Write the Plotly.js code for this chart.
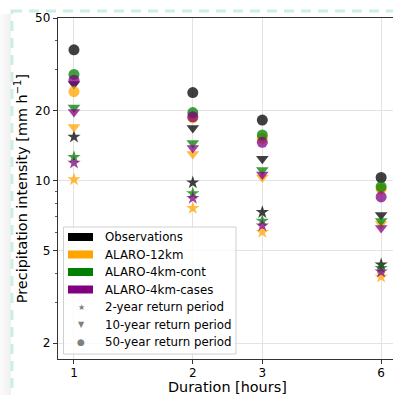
<!DOCTYPE html>
<html>
<head>
<meta charset="utf-8">
<script src="https://cdn.plot.ly/plotly-3.0.1.min.js"></script>
<style>
  html, body { margin:0; padding:0; background:#ffffff; width:393px; height:395px; overflow:hidden; }
  #wrap { position:relative; width:393px; height:395px; }
  #shadow { position:absolute; left:0; top:14px; width:11px; height:390px;
            background:linear-gradient(to right, rgba(0,0,0,0.015), rgba(0,0,0,0.06)); }
  #chart { position:absolute; left:0; top:0; width:393px; height:395px; }
  #frame { position:absolute; left:0; top:0; pointer-events:none; }
</style>
</head>
<body>
<div id="wrap">
  <div id="shadow"></div>
  <div id="chart"></div>
  <svg id="frame" width="393" height="395">
    <rect x="12" y="11" width="600" height="600" fill="none" stroke="#cdeee3" stroke-width="3" stroke-dasharray="10 7"></rect>
  </svg>
</div>
<script>
// ---- data ----
const durations = [1, 2, 3, 6];
const durationLabels = ['1', '2', '3', '6'];
const yTickVals = [2, 5, 10, 20, 50];
const yTickText = ['2', '5', '10', '20', '50'];
const yMinorVals = [3, 4, 6, 7, 8, 9, 30, 40];

const obs_2yr  = [15.4, 9.8, 7.3, 4.35];
const obs_10yr = [26.0, 16.8, 12.4, 7.1];
const obs_50yr = [36.5, 23.9, 18.2, 10.3];

const a12_2yr  = [10.1, 7.6, 6.0, 3.85];
const a12_10yr = [17.0, 13.0, 10.3, 6.5];
const a12_50yr = [24.1, 18.6, 15.2, 9.2];

const cont_2yr  = [12.6, 8.8, 6.7, 4.2];
const cont_10yr = [20.6, 14.5, 11.1, 6.7];
const cont_50yr = [28.6, 19.6, 15.7, 9.4];

const cases_2yr  = [11.9, 8.4, 6.4, 4.05];
const cases_10yr = [19.7, 13.8, 10.6, 6.25];
const cases_50yr = [27.0, 18.8, 14.6, 8.5];

const seriesNames = ['Observations', 'ALARO-12km', 'ALARO-4km-cont', 'ALARO-4km-cases'];
const seriesColors = ['#000000', '#FFA500', '#008000', '#800080'];
const periodNames = ['2-year return period', '10-year return period', '50-year return period'];
const periodSymbols = ['star', 'triangle-down', 'circle'];
const periodSizes = [10, 11, 11];
const xTitle = 'Duration [hours]';
const yTitle = 'Precipitation intensity [mm h<sup>−1</sup>]';

const seriesData = [
  [obs_2yr, obs_10yr, obs_50yr],
  [a12_2yr, a12_10yr, a12_50yr],
  [cont_2yr, cont_10yr, cont_50yr],
  [cases_2yr, cases_10yr, cases_50yr]
];

// ---- traces ----
const traces = [];
seriesData.forEach((periods, si) => {
  periods.forEach((vals, pi) => {
    traces.push({
      type: 'scatter', mode: 'markers',
      x: durations, y: vals,
      name: seriesNames[si] + ' ' + periodNames[pi],
      showlegend: false,
      marker: { symbol: periodSymbols[pi], size: periodSizes[pi], color: seriesColors[si], opacity: 0.75, line: { width: 0 } },
      hoverinfo: 'x+y'
    });
  });
});

// ---- geometry helpers for the legend (pixels -> paper) ----
const W = 393, H = 395, ML = 58, MR = 0, MT = 18, MB = 36;
const PW = W - ML - MR, PH = H - MT - MB;
const px = v => (v - ML) / PW;
const py = v => (H - MB - v) / PH;

const shapes = [];
const annotations = [];
const font = 'DejaVu Sans, sans-serif';

// legend box
shapes.push({ type: 'rect', xref: 'paper', yref: 'paper', x0: px(63.5), x1: px(236), y0: py(227), y1: py(354),
  line: { color: '#d0d0d0', width: 1 }, fillcolor: 'rgba(255,255,255,0.8)', layer: 'above' });

const rowY0 = 237, rowStep = 17.5;
const legendLabels = seriesNames.concat(periodNames);
legendLabels.forEach((lab, i) => {
  const yc = rowY0 + i * rowStep;
  if (i < 4) {
    shapes.push({ type: 'rect', xref: 'paper', yref: 'paper', x0: px(68), x1: px(93), y0: py(yc - 4), y1: py(yc + 4),
      line: { width: 0 }, fillcolor: seriesColors[i], layer: 'above' });
  }
  annotations.push({ xref: 'paper', yref: 'paper', x: px(102.5), y: py(yc), xanchor: 'left', yanchor: 'middle',
    text: lab, showarrow: false, font: { family: font, size: 11.8, color: '#000000' } });
});
// gray markers for return periods
const glyphs = ['★', '▼', '●'];
const glyphSizes = [8, 8, 9];
glyphs.forEach((g, i) => {
  const yc = rowY0 + (4 + i) * rowStep;
  annotations.push({ xref: 'paper', yref: 'paper', x: px(81), y: py(yc), xanchor: 'center', yanchor: 'middle',
    text: g, showarrow: false, font: { family: font, size: glyphSizes[i], color: '#808080' } });
});
// x-axis title as annotation (placed below tick labels)
annotations.push({ xref: 'paper', yref: 'paper', x: px(227), y: py(387), xanchor: 'center', yanchor: 'middle',
  text: xTitle, showarrow: false, font: { family: font, size: 14.4, color: '#000000' } });

const layout = {
  width: W, height: H,
  margin: { l: ML, r: MR, t: MT, b: MB, pad: 0 },
  paper_bgcolor: 'rgba(0,0,0,0)', plot_bgcolor: '#ffffff',
  font: { family: font, size: 12, color: '#000000' },
  showlegend: false,
  xaxis: {
    type: 'log', range: [Math.log10(0.911), Math.log10(6.43)],
    tickmode: 'array', tickvals: durations, ticktext: durationLabels,
    ticks: 'outside', ticklen: 4, tickwidth: 1, tickcolor: '#333333', ticklabelstandoff: -2,
    showline: true, linecolor: '#333333', linewidth: 1.2, mirror: true,
    showgrid: true, gridcolor: '#e3e3e3', gridwidth: 1, zeroline: false,
    tickfont: { family: font, size: 12, color: '#000000' }
  },
  yaxis: {
    type: 'log', range: [0.2322, Math.log10(50)],
    tickmode: 'array', tickvals: yTickVals, ticktext: yTickText,
    ticks: 'outside', ticklen: 4, tickwidth: 1, tickcolor: '#333333',
    minor: { tickmode: 'array', tickvals: yMinorVals, ticks: 'outside', ticklen: 2, tickwidth: 0.8, tickcolor: '#333333', showgrid: false },
    showline: true, linecolor: '#333333', linewidth: 1.2, mirror: false,
    showgrid: true, gridcolor: '#e3e3e3', gridwidth: 1, zeroline: false,
    tickfont: { family: font, size: 12, color: '#000000' },
    title: { text: yTitle, font: { family: font, size: 14.4, color: '#000000' }, standoff: 4 }
  },
  shapes: shapes,
  annotations: annotations
};

Plotly.newPlot('chart', traces, layout, { displayModeBar: false, staticPlot: true });
</script>
</body>
</html>
